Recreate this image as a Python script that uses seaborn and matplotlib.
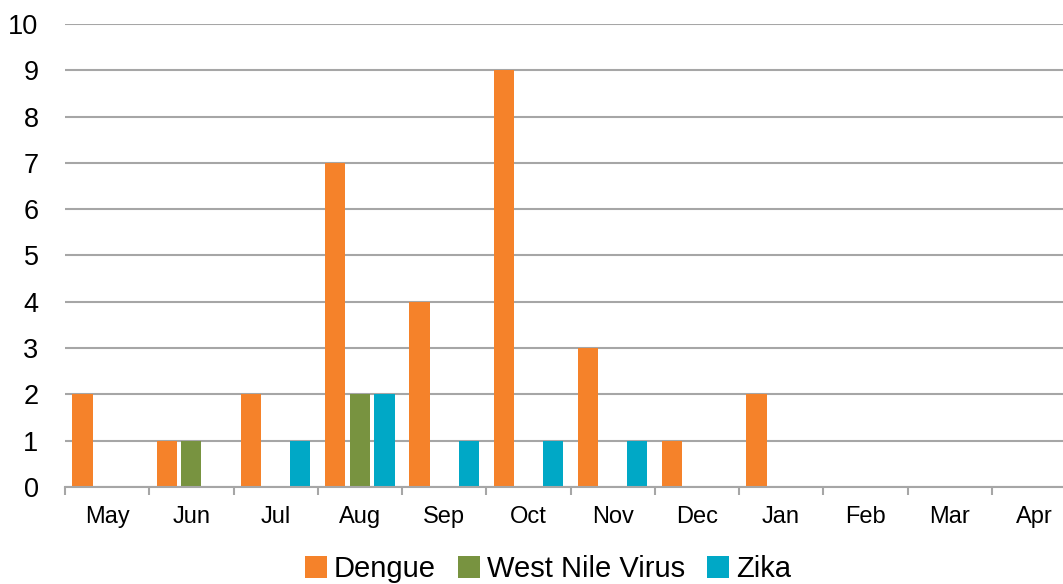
import matplotlib
matplotlib.use("Agg")
import matplotlib.pyplot as plt
import seaborn as sns
import pandas as pd
import numpy as np
from matplotlib.ticker import FixedLocator
from matplotlib.patches import Patch

months = ["May", "Jun", "Jul", "Aug", "Sep", "Oct", "Nov", "Dec", "Jan", "Feb", "Mar", "Apr"]
dengue = [2, 1, 2, 7, 4, 9, 3, 1, 2, 0, 0, 0]
west_nile = [0, 1, 0, 2, 0, 0, 0, 0, 0, 0, 0, 0]
zika = [0, 0, 1, 2, 1, 1, 1, 0, 0, 0, 0, 0]
series_names = ["Dengue", "West Nile Virus", "Zika"]
colors = ["#F5822A", "#789340", "#00A8C6"]

df = pd.DataFrame({
    "Month": months * 3,
    "Cases": dengue + west_nile + zika,
    "Disease": np.repeat(series_names, len(months)),
})

sns.set_theme(style="white")
plt.rcParams["font.family"] = ["Liberation Sans", "DejaVu Sans"]
plt.rcParams["text.color"] = "black"

fig = plt.figure(figsize=(10.63, 5.84), dpi=100)
ax = fig.add_axes([65 / 1063, 1 - 487 / 584, 1011 / 1063, 463 / 584])

sns.barplot(data=df, x="Month", y="Cases", hue="Disease", order=months,
            hue_order=series_names, palette=colors, width=0.875, gap=0.18,
            linewidth=0, saturation=1, ax=ax, legend=False)

ax.set_xlim(-0.5, len(months) - 0.5)
ax.set_ylim(0, 10)
ax.set_yticks(range(0, 11))
ax.yaxis.grid(True, color="#A6A6A6", linewidth=1.5)
ax.set_axisbelow(True)
ax.set_xlabel("")
ax.set_ylabel("")

for side in ["top", "right", "left"]:
    ax.spines[side].set_visible(False)
ax.spines["bottom"].set_color("#A6A6A6")
ax.spines["bottom"].set_linewidth(1.5)

ax.tick_params(axis="y", length=0, pad=19, labelsize=19.5, labelcolor="black")
ax.tick_params(axis="x", which="major", length=0, pad=14, labelsize=17, labelcolor="black")
ax.xaxis.set_minor_locator(FixedLocator(np.arange(-0.5, len(months), 1.0)))
ax.tick_params(axis="x", which="minor", length=6, width=1.5, color="#A6A6A6", bottom=True)

handles = [Patch(facecolor=c, edgecolor="none") for c in colors]
fig.legend(handles, series_names, loc="center", bbox_to_anchor=(548 / 1063, 1 - 569 / 584),
           ncol=3, frameon=False, fontsize=21, handlelength=0.75, handleheight=0.75,
           handletextpad=0.25, columnspacing=0.75, labelcolor="black")

fig.savefig("out.png", dpi=100)
